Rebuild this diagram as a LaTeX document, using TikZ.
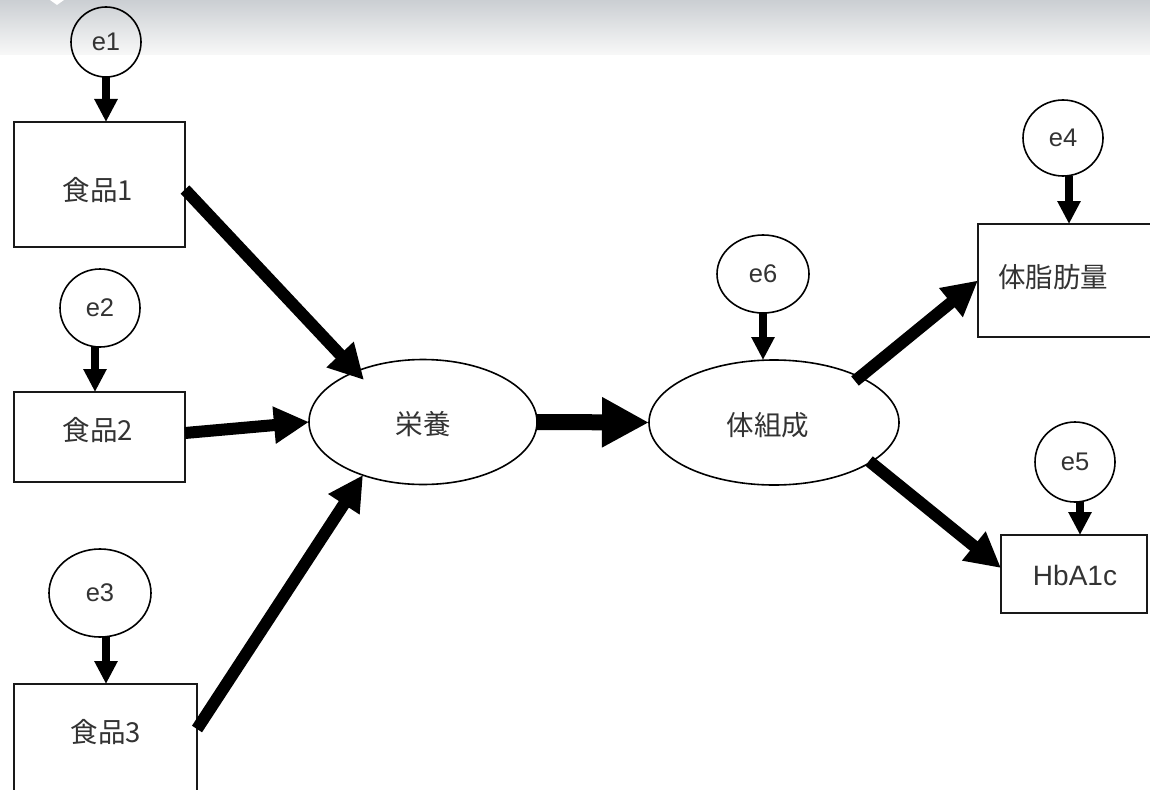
\documentclass[tikz,border=0pt]{standalone}
\usepackage{fontspec}
\setmainfont{Liberation Sans}
\newfontfamily\jp{Noto Sans CJK JP}
\usetikzlibrary{arrows.meta,shapes.geometric,calc}
\definecolor{txt}{HTML}{333333}
\definecolor{hdtop}{HTML}{CBCFD3}
\definecolor{hdbot}{HTML}{F8F8F8}
\begin{document}
\begin{tikzpicture}[x=1pt,y=-1pt,
  box/.style={draw=black!90, line width=1.8pt, rectangle, inner sep=0pt, outer sep=0pt},
  err/.style={draw=black, line width=1.6pt, ellipse, inner sep=0pt, outer sep=0pt, text=txt, font=\fontsize{25.5}{29}\selectfont},
  lat/.style={draw=black, line width=1.6pt, ellipse, inner sep=0pt, outer sep=0pt},
  lab/.style={text=txt, inner sep=0pt, font=\fontsize{27.5}{31}\selectfont\jp},
  thinarr/.style={line width=8pt, -{Triangle[length=23pt,width=22pt]}},
  midarr/.style={line width=12pt, -{Triangle[length=35pt,width=35pt]}},
  bigarr/.style={line width=16pt, -{Triangle[length=47pt,width=47pt]}},
]
\useasboundingbox (0,0) rectangle (1150,789);
\clip (0,0) rectangle (1150,789);
\fill[white] (0,0) rectangle (1150,789);
\shade[top color=hdtop, bottom color=hdbot] (0,0) rectangle (1150,55);
\fill[white] (50,0) -- (57,5) -- (64,0) -- cycle;

% left side
\node[err, minimum width=70pt, minimum height=70pt] (e1) at (106,42) {e1};
\node[box, minimum width=171pt, minimum height=125pt] (f1) at (99.5,184.5) {};
\node[lab] (t1) at (98,190) {食品1};

\node[err, minimum width=80pt, minimum height=78pt] (e2) at (100,308) {e2};
\node[box, minimum width=171pt, minimum height=90pt] (f2) at (99.5,437) {};
\node[lab] (t2) at (98,430) {食品2};

\node[err, minimum width=102pt, minimum height=88pt] (e3) at (100,593) {e3};
\node[box, minimum width=183pt, minimum height=116pt] (f3) at (105.5,742) {};
\node[lab] (t3) at (106,732) {食品3};

% latent variables
\node[lat, minimum width=228pt, minimum height=125pt] (nut) at (423,422) {};
\node[lab] (tn) at (423,424) {栄養};
\node[err, minimum width=92pt, minimum height=78pt] (e6) at (763,274) {e6};
\node[lat, minimum width=250pt, minimum height=125pt] (bc) at (774,422.5) {};
\node[lab] (tb) at (768,425) {体組成};

% right side
\node[err, minimum width=80pt, minimum height=76pt] (e4) at (1063,138) {e4};
\node[box, minimum width=182pt, minimum height=113pt] (fat) at (1069,280.5) {};
\node[lab] (tf) at (1053,277) {体脂肪量};

\node[err, minimum width=80pt, minimum height=80pt] (e5) at (1075,462) {e5};
\node[box, minimum width=146pt, minimum height=78pt] (hb) at (1074,574) {};
\node[text=txt, inner sep=0pt, font=\fontsize{28}{31}\selectfont] (th) at (1075,575) {HbA1c};

% error arrows
\coordinate (a1) at (e1.south);
\draw[thinarr] (a1) -- (a1 |- f1.north);
\coordinate (a2) at ([xshift=-5pt]e2.south);
\draw[thinarr] (a2) -- (a2 |- f2.north);
\coordinate (a3) at ([xshift=6pt]e3.south);
\draw[thinarr] (a3) -- (a3 |- f3.north);
\coordinate (a6) at (e6.south);
\draw[thinarr] (a6) -- (a6 |- bc.north);
\coordinate (a4) at ([xshift=6pt]e4.south);
\draw[thinarr] (a4) -- (a4 |- fat.north);
\coordinate (a5) at ([xshift=5pt]e5.south);
\draw[thinarr] (a5) -- (a5 |- hb.north);

% structural arrows
\draw[midarr] ([yshift=-5pt]f1.east) -- ($(nut)+(-59,-42)$);
\draw[midarr] ([yshift=4pt]f2.east) -- (nut.west);
\draw[midarr] ([yshift=13pt]f3.east) -- ($(nut)+(-60,53)$);
\draw[bigarr] (nut.east) -- (bc.west);
\draw[midarr] ($(bc)+(81,-41.5)$) -- (fat.west);
\draw[midarr] ($(bc)+(95,38.5)$) -- ([yshift=6pt]hb.west);
\end{tikzpicture}
\end{document}
